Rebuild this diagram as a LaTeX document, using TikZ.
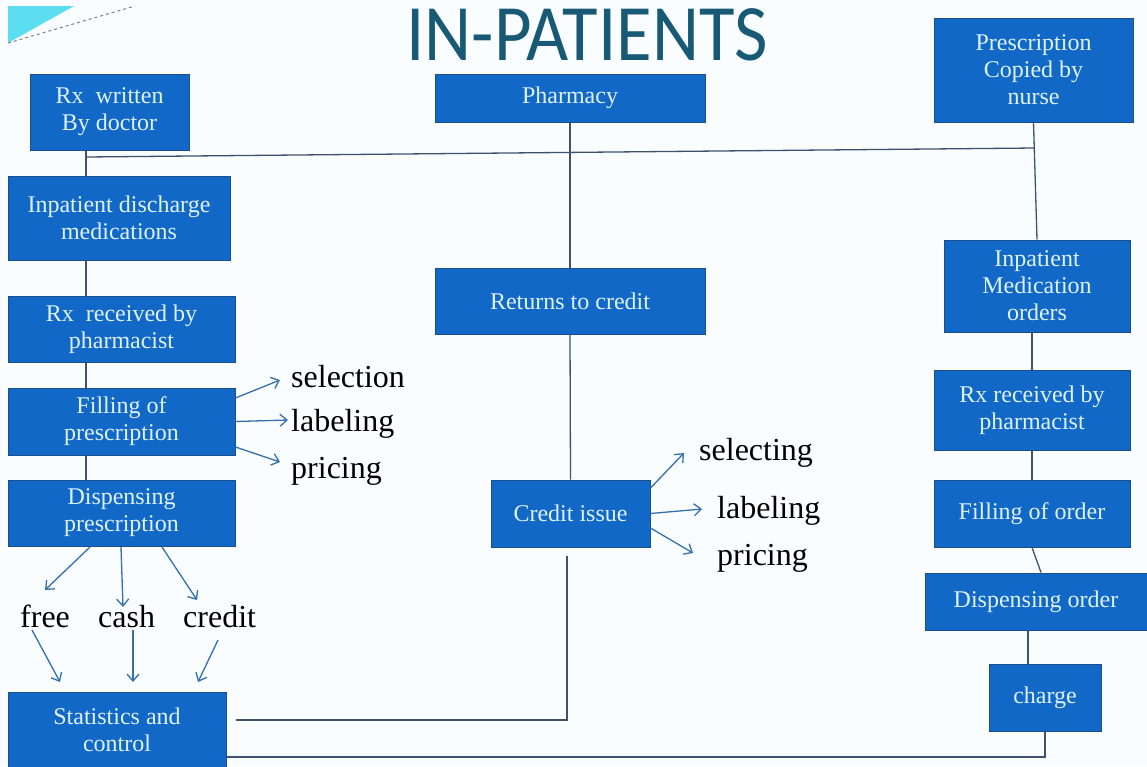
\documentclass[tikz,border=0pt]{standalone}
\usepackage{fontspec}
\setmainfont{Liberation Serif}
\newfontfamily\titlefont{Carlito}
\usetikzlibrary{arrows.meta}
\definecolor{boxblue}{RGB}{18,104,198}
\definecolor{boxedge}{RGB}{28,78,140}
\definecolor{boxtext}{RGB}{222,242,252}
\definecolor{linecol}{RGB}{62,82,112}
\definecolor{arrcol}{RGB}{52,112,172}
\definecolor{titlecol}{RGB}{24,90,118}
\definecolor{decocyan}{RGB}{90,222,240}
\begin{document}
\begin{tikzpicture}[x=1pt,y=-1pt,
  box/.style={draw=boxedge, line width=1pt, fill=boxblue, text=boxtext, align=center,
    inner sep=0pt, font=\fontsize{24}{27}\selectfont},
  lbl/.style={inner sep=0pt, anchor=base west, font=\fontsize{32}{34}\selectfont, text=black},
  conn/.style={draw=linecol, line width=1.3pt},
  arr/.style={draw=arrcol, line width=1.3pt, -{Straight Barb[length=7pt,width=12pt]}}]
\useasboundingbox (0,0) rectangle (1147,766);
\fill[white!98!cyan] (0,0) rectangle (1147,766);
% decoration
\fill[decocyan] (8,6) -- (74,6) -- (8,43) -- cycle;
\draw[gray, dashed, line width=1pt] (8,43) -- (135,6);
% title
\node[anchor=base, inner sep=0pt, text=titlecol, font=\titlefont\fontsize{80}{80}\selectfont] (title) at (587,60) {\scalebox{0.91}[1]{IN-PATIENTS}};
% left column
\node[box, minimum width=159pt, minimum height=76pt] (rx) at (109.5,112) {Rx~ written\\By doctor};
\node[box, minimum width=222pt, minimum height=84pt] (disch) at (119,218) {Inpatient discharge\\medications};
\node[box, minimum width=227pt, minimum height=66pt] (recv) at (121.5,329) {Rx~ received by\\pharmacist};
\node[box, minimum width=227pt, minimum height=67pt] (fill) at (121.5,421.5) {Filling of\\prescription};
\node[box, minimum width=227pt, minimum height=66pt] (disp) at (121.5,513) {Dispensing\\prescription};
\node[box, minimum width=218pt, minimum height=76pt] (stat) at (117,730) {Statistics and\\control};
% middle column
\node[box, minimum width=270pt, minimum height=48pt] (pharm) at (570,98) {Pharmacy};
\node[box, minimum width=270pt, minimum height=66pt] (ret) at (570,301) {Returns to credit};
\node[box, minimum width=159pt, minimum height=67pt] (cred) at (570.5,513.5) {Credit issue};
% right column
\node[box, minimum width=199pt, minimum height=104pt] (nurse) at (1033.5,70) {Prescription\\Copied by\\nurse};
\node[box, minimum width=186pt, minimum height=92pt] (medord) at (1037,286) {Inpatient\\Medication\\orders};
\node[box, minimum width=196pt, minimum height=80pt] (recv2) at (1032,410) {Rx received by\\pharmacist};
\node[box, minimum width=196pt, minimum height=67pt] (fillord) at (1032,513.5) {Filling of order};
\node[box, minimum width=222pt, minimum height=57pt] (disporder) at (1036,601.5) {Dispensing order};
\node[box, minimum width=112pt, minimum height=67pt] (charge) at (1045,697.5) {charge};
% labels
\node[lbl] (sel) at (291,387) {selection};
\node[lbl] (lab) at (291,431) {labeling};
\node[lbl] (pri) at (291,478) {pricing};
\node[lbl] (free) at (20,627) {free};
\node[lbl] (cash) at (98,627) {cash};
\node[lbl] (credit) at (183,627) {credit};
\node[lbl] (sel2) at (699,460) {selecting};
\node[lbl] (lab2) at (717,518) {labeling};
\node[lbl] (pri2) at (717,565) {pricing};
% helper coordinates
\coordinate (lx) at (86,0);
\coordinate (j1) at (86,157);
\coordinate (j2) at (1035,148);
\coordinate (c1) at (567,556);
\coordinate (c2) at (236,720);
\coordinate (b1) at (226,757);
\coordinate (rx2) at (1028,0);
% connectors
\draw[conn] (rx.south -| lx) -- (disch.north -| lx);
\draw[conn] (j1) -- (j2);
\draw[conn] (nurse.south) -- (medord.north);
\draw[conn] (disch.south -| lx) -- (recv.north -| lx);
\draw[conn] (recv.south -| lx) -- (fill.north -| lx);
\draw[conn] (fill.south -| lx) -- (disp.north -| lx);
\draw[conn] (pharm.south) -- (ret.north);
\draw[conn] (ret.south) -- (cred.north);
\draw[conn] (c1) |- (c2);
\draw[conn] (medord.south -| recv2) -- (recv2.north);
\draw[conn] (recv2.south) -- (fillord.north);
\draw[conn] (fillord.south) -- ([xshift=5pt]disporder.north);
\draw[conn] (disporder.south -| rx2) -- (charge.north -| rx2);
\draw[conn] (charge.south) |- (b1);
% arrows
\draw[arr] ([yshift=23.5pt]fill.east) -- (280,380);
\draw[arr] (fill.east) -- (288,420);
\draw[arr] ([yshift=-25.5pt]fill.east) -- (280,462);
\draw[arr] (90,547) -- (45,590);
\draw[arr] (121,547) -- (123,607);
\draw[arr] (162,547) -- (197,600);
\draw[arr] (32,630) -- (60,682);
\draw[arr] (133,630) -- (133,682);
\draw[arr] (218,640) -- (198,682);
\draw[arr] ([yshift=25.5pt]cred.east) -- (684,453);
\draw[arr] (cred.east) -- (702,509);
\draw[arr] ([yshift=-14.5pt]cred.east) -- (693,553);
\end{tikzpicture}
\end{document}
